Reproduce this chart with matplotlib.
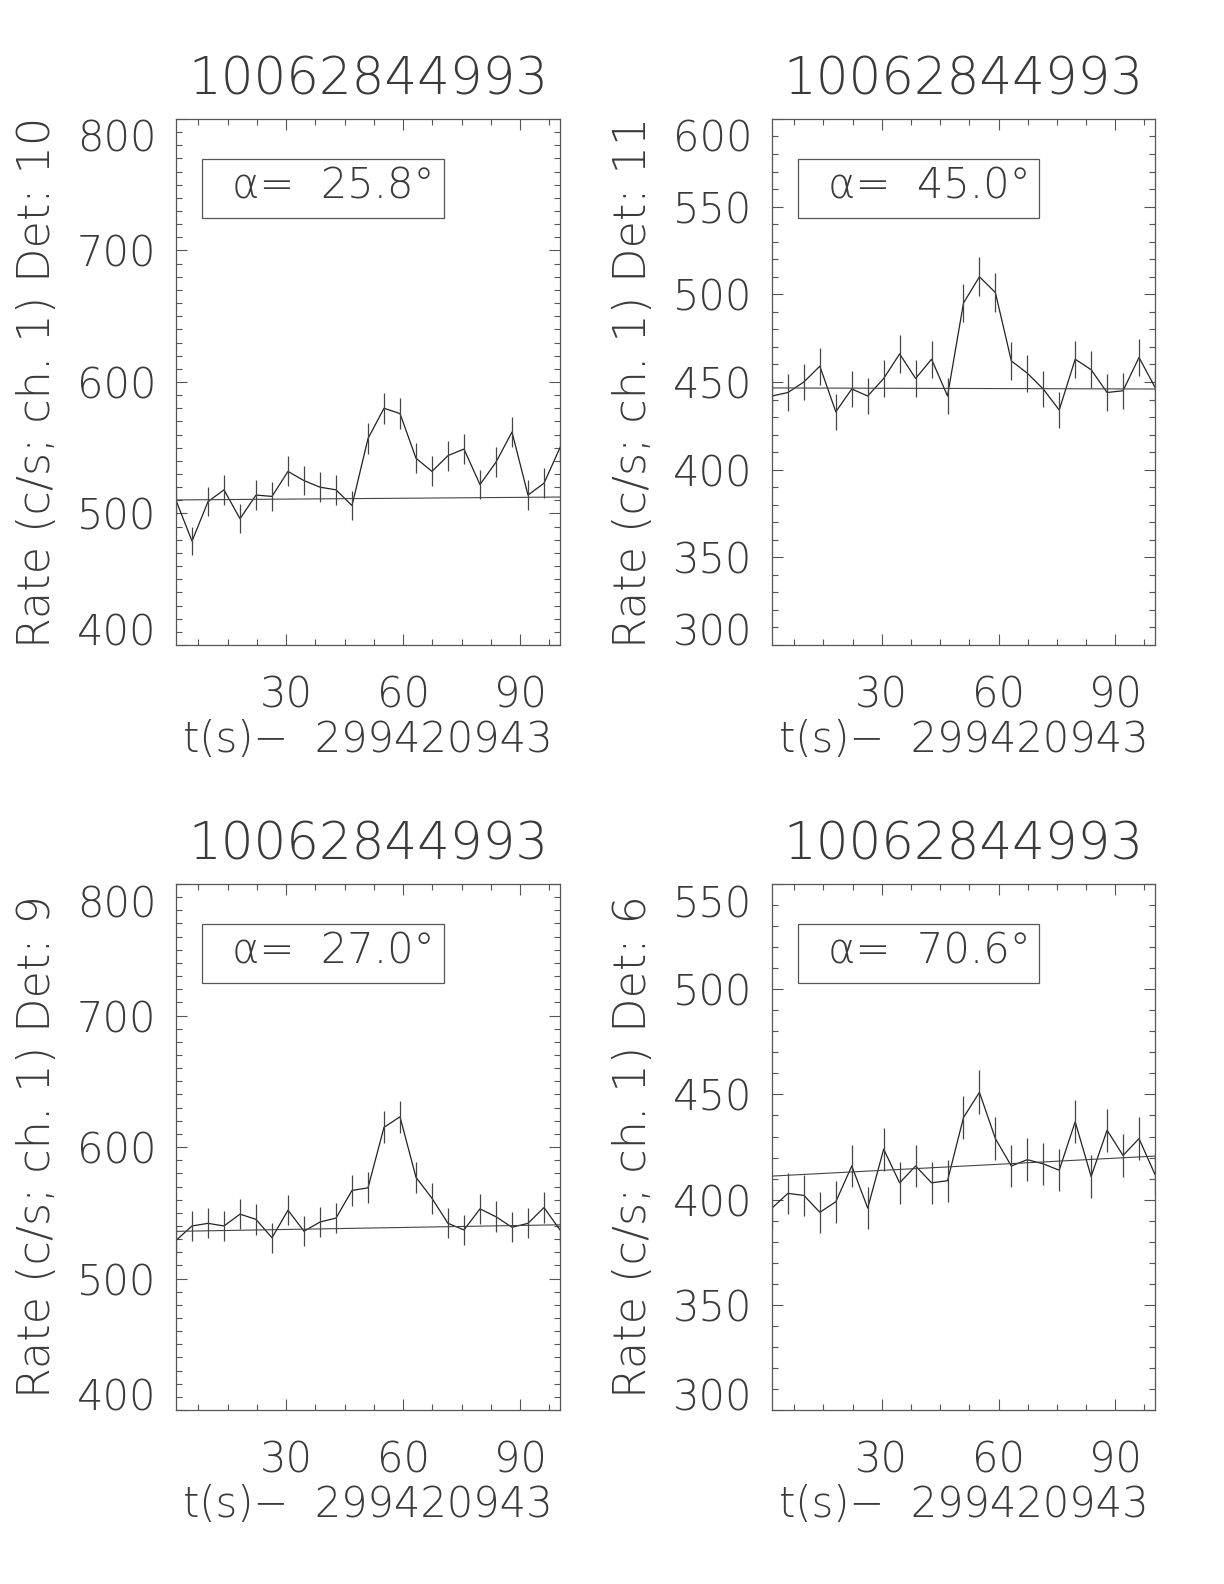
import matplotlib
matplotlib.use("Agg")
import matplotlib.pyplot as plt
from matplotlib.ticker import MultipleLocator
from matplotlib.patches import Rectangle

# ---------------------------------------------------------------------------
# Data
# ---------------------------------------------------------------------------
title = "10062844993"
xlabel = "t(s)\u2212  299420943"

t = [1.8, 5.9, 10.0, 14.1, 18.2, 22.3, 26.4, 30.5, 34.6, 38.7, 42.8, 46.9,
     51.0, 55.1, 59.2, 63.3, 67.4, 71.5, 75.6, 79.7, 83.8, 87.9, 92.0, 96.1,
     100.2]

det_names = ["10", "11", "9", "6"]
alphas = ["25.8", "45.0", "27.0", "70.6"]

rate_10 = [510, 479, 509, 518, 496, 514, 513, 532, 525, 520, 518, 506,
           557, 580, 576, 542, 532, 544, 549, 522, 539, 562, 514, 523, 550]
err_10 = [11.2, 10.8, 11.1, 11.2, 11.0, 11.2, 11.2, 11.4, 11.3, 11.3, 11.2,
          11.1, 11.7, 11.9, 11.9, 11.5, 11.4, 11.5, 11.6, 11.3, 11.5, 11.7,
          11.2, 11.3, 11.6]
bkg_10 = [510.3, 512.5]

rate_11 = [442, 444, 450, 459, 433, 446, 442, 452, 466, 452, 463, 442,
           495, 510, 501, 462, 455, 446, 434, 463, 457, 444, 445, 464, 447]
err_11 = [10.4, 10.4, 10.5, 10.6, 10.3, 10.4, 10.4, 10.5, 10.7, 10.5, 10.6,
          10.4, 11.0, 11.2, 11.1, 10.6, 10.5, 10.4, 10.3, 10.6, 10.6, 10.4,
          10.4, 10.6, 10.4]
bkg_11 = [446.6, 446.0]

rate_9 = [529, 540, 542, 540, 549, 545, 531, 552, 536, 543, 546, 567,
          569, 615, 623, 577, 561, 542, 537, 553, 547, 539, 542, 554, 537]
err_9 = [11.4, 11.5, 11.5, 11.5, 11.6, 11.5, 11.4, 11.6, 11.4, 11.5, 11.5,
         11.8, 11.8, 12.2, 12.3, 11.9, 11.7, 11.5, 11.4, 11.6, 11.6, 11.5,
         11.5, 11.6, 11.4]
bkg_9 = [535.9, 540.9]

rate_6 = [396, 403, 402, 394, 399, 416, 396, 424, 408, 416, 408, 409,
          439, 451, 429, 416, 419, 417, 414, 437, 411, 433, 421, 429, 412]
err_6 = [9.8, 9.9, 9.9, 9.8, 9.9, 10.1, 9.8, 10.2, 10.0, 10.1, 10.0, 10.0,
         10.3, 10.5, 10.2, 10.1, 10.1, 10.1, 10.0, 10.3, 10.0, 10.3, 10.1,
         10.2, 10.0]
bkg_6 = [411.2, 420.7]

rates = [rate_10, rate_11, rate_9, rate_6]
errs = [err_10, err_11, err_9, err_6]
bkgs = [bkg_10, bkg_11, bkg_9, bkg_6]
ylims = [(400, 800), (300, 600), (400, 800), (300, 550)]
ymajor = [100, 50, 100, 50]

# ---------------------------------------------------------------------------
# Figure
# ---------------------------------------------------------------------------
plt.rcParams["font.family"] = ["DejaVu Sans"]
plt.rcParams["font.weight"] = 200

TXT = "#3a3a3a"
LINE = "#222222"
AX = "#555555"

fig = plt.figure(figsize=(12.24, 15.84), dpi=100, facecolor="white")

positions = [
    [0.1438, 0.5928, 0.3137, 0.3321],
    [0.6307, 0.5928, 0.3129, 0.3321],
    [0.1438, 0.1098, 0.3137, 0.3321],
    [0.6307, 0.1098, 0.3129, 0.3321],
]

axes = []
for k in range(4):
    ax = fig.add_axes(positions[k])
    axes.append(ax)
    ax.plot(t, rates[k], color=LINE, lw=0.9)
    ax.errorbar(t, rates[k], yerr=errs[k], fmt="none", ecolor="#444444",
                elinewidth=0.9, capsize=0)
    ax.plot([t[0], t[-1]], bkgs[k], color="#444444", lw=0.8)

    ax.set_xlim(t[0], t[-1])
    ax.set_ylim(*ylims[k])
    ax.xaxis.set_major_locator(MultipleLocator(30))
    ax.xaxis.set_minor_locator(MultipleLocator(7.5))
    ax.yaxis.set_major_locator(MultipleLocator(ymajor[k]))
    ax.yaxis.set_minor_locator(MultipleLocator(10))
    ax.tick_params(which="both", direction="in", top=True, right=True,
                   color=AX, width=0.8, labelcolor=TXT, labelsize=30)
    ax.tick_params(which="major", length=8)
    ax.tick_params(which="minor", length=4)
    ax.tick_params(axis="x", pad=21)
    ax.tick_params(axis="y", pad=14)
    for s in ax.spines.values():
        s.set_color(AX)
        s.set_linewidth(0.9)

    ax.text(0.5, 1.073, title, transform=ax.transAxes, ha="center",
            va="center", fontsize=37, color=TXT)
    ax.text(0.5, -0.18, xlabel, transform=ax.transAxes, ha="center",
            va="center", fontsize=30, color=TXT)
    ax.text(-0.362, 0.5, "Rate (c/s; ch. 1) Det: " + det_names[k],
            transform=ax.transAxes, ha="center", va="center",
            rotation=90, fontsize=32, color=TXT)

    # alpha box
    ax.add_patch(Rectangle((0.067, 0.812), 0.63, 0.112,
                           transform=ax.transAxes, fill=False,
                           edgecolor=AX, lw=0.9))
    ax.text(0.41, 0.872, "\u03b1=  " + alphas[k] + "°",
            transform=ax.transAxes, ha="center", va="center",
            fontsize=30, color=TXT)

# pull the end y labels inside the axis range, as in the original
fig.canvas.draw()
for k, ax in enumerate(axes):
    lo, hi = ylims[k]
    for tick in ax.yaxis.get_major_ticks():
        loc = tick.get_loc()
        if abs(loc - lo) < 1e-6:
            tick.label1.set_verticalalignment("baseline")
        elif abs(loc - hi) < 1e-6:
            tick.label1.set_verticalalignment("top")

fig.savefig("out.png", dpi=100, facecolor="white")
